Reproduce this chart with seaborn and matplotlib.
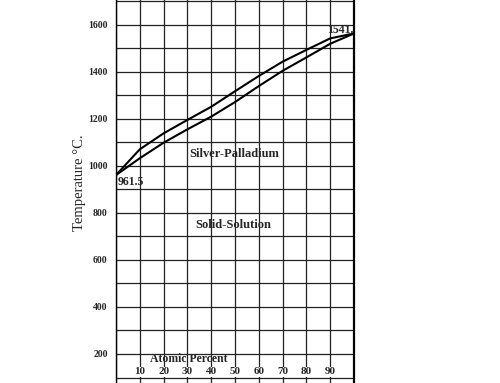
import matplotlib
matplotlib.use('Agg')
import matplotlib.pyplot as plt
import seaborn as sns
import numpy as np
import pandas as pd

# Silver-Palladium diagram, values
atomic_pct = [0, 10, 20, 30, 40, 50, 60, 70, 80, 90, 100]
liquidus = [961.5, 1071, 1139, 1196, 1252, 1318, 1383, 1444, 1494, 1543, 1564]
solidus = [961.5, 1033, 1099, 1156, 1210, 1272, 1340, 1405, 1462, 1520, 1564]
x_tick_labels = ['10', '20', '30', '40', '50', '60', '70', '80', '90']
y_tick_values = [200, 400, 600, 800, 1000, 1200, 1400, 1600]

sns.set_style("white")
plt.rcParams['font.family'] = ['Liberation Serif', 'DejaVu Serif']

df = pd.DataFrame({
    'pct': atomic_pct * 2,
    'temp': liquidus + solidus,
    'curve': ['liquidus'] * len(atomic_pct) + ['solidus'] * len(atomic_pct),
})

fig = plt.figure(figsize=(5.0, 3.83), dpi=100)
ax = fig.add_axes([0.232, -0.047, 0.476, 1.0738])

sns.lineplot(data=df, x='pct', y='temp', units='curve', estimator=None,
             color='black', lw=1.5, ax=ax, legend=False)

ax.set_xlim(0, 100)
ax.set_ylim(0, 1750)

# grid every 10 % and every 100 deg
ax.set_xticks(np.arange(0, 101, 10))
ax.set_yticks(np.arange(0, 1751, 100), minor=True)
ax.set_yticks(y_tick_values)
ax.set_yticklabels([str(v) for v in y_tick_values], fontsize=7, fontweight='bold')
ax.set_xticklabels([])
ax.grid(True, which='both', color='#222222', lw=0.9)
ax.tick_params(axis='x', which='both', length=0)
ax.tick_params(axis='y', which='both', length=3, width=0.9, direction='out',
               color='#222222', pad=3)

for side in ['left', 'right', 'top', 'bottom']:
    ax.spines[side].set_color('black')
ax.spines['left'].set_linewidth(1.0)
ax.spines['right'].set_linewidth(1.6)

ax.set_xlabel('')
ax.set_ylabel('Temperature °C.', fontsize=10.5)
ax.yaxis.set_label_coords(-0.124, 0.53)

# labels drawn inside the plot
for i, lab in enumerate(x_tick_labels):
    ax.text((i + 1) * 10, 125, lab, ha='center', va='center', fontsize=8,
            fontweight='bold', bbox=dict(facecolor='white', edgecolor='none', pad=0.3))
ax.text(30.7, 179, 'Atomic Percent', ha='center', va='center', fontsize=8.5,
        fontweight='bold')
ax.text(0.6, 932, '961.5', ha='left', va='center', fontsize=8.5, fontweight='bold')
ax.text(88.7, 1579, '1541.', ha='left', va='center', fontsize=8.5, fontweight='bold')
ax.text(49.6, 1051, 'Silver-Palladium', ha='center', va='center', fontsize=9,
        fontweight='bold')
ax.text(49.2, 749, 'Solid-Solution', ha='center', va='center', fontsize=9,
        fontweight='bold')

fig.savefig('out.png', dpi=100, facecolor='white')
plt.close(fig)
